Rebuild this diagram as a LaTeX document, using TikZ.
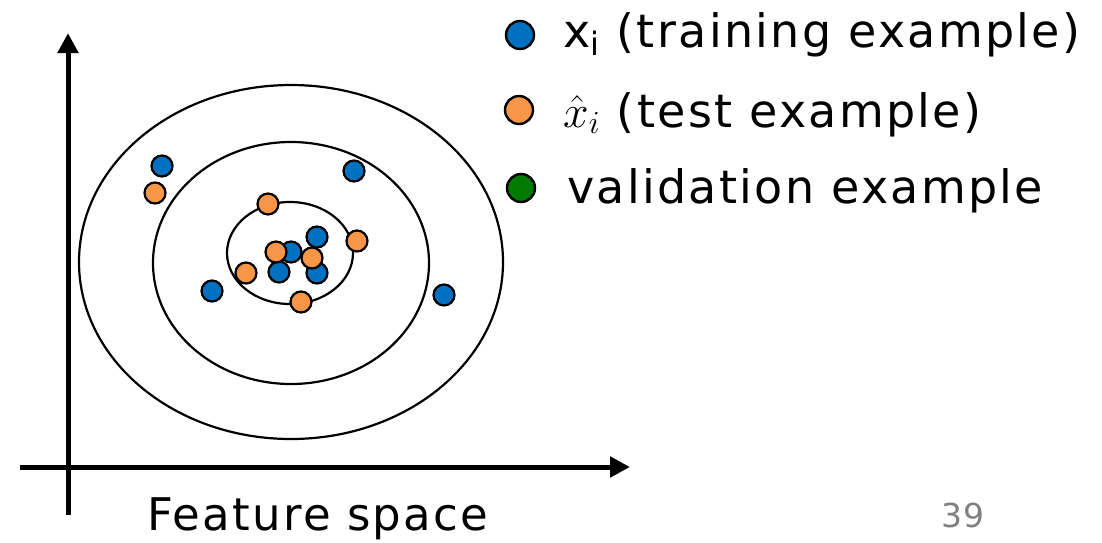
\documentclass[tikz,border=0pt]{standalone}
\usepackage{fix-cm}
\usepackage{fontspec}
\setmainfont{DejaVu Sans}[LetterSpace=5]
\usetikzlibrary{arrows.meta}
\definecolor{trainblue}{HTML}{0070C0}
\definecolor{testorange}{HTML}{F79646}
\definecolor{valgreen}{HTML}{007A00}
\tikzset{
  axis/.style={line width=5pt, -{Triangle[length=20pt,width=20pt]}},
  ring/.style={draw, line width=2.2pt},
  pt/.style={circle, draw, line width=2.2pt, minimum size=21pt, inner sep=0pt},
  train/.style={pt, fill=trainblue},
  testp/.style={pt, fill=testorange},
  legdot/.style={circle, draw, line width=2.4pt, minimum size=28pt, inner sep=0pt},
  legtext/.style={anchor=base west, inner sep=0pt, font=\fontsize{46}{50}\selectfont},
}
\begin{document}
\begin{tikzpicture}[x=1pt,y=-1pt]
\useasboundingbox (0,0) rectangle (1102,542);
% axes
\coordinate (yb) at (68,515);
\coordinate (yt) at (68,33);
\coordinate (xl) at (20,467);
\coordinate (xr) at (630,467);
\draw[axis] (yb) -- (yt);
\draw[axis] (xl) -- (xr);
% ellipses
\draw[ring] (291,262) ellipse [x radius=212, y radius=177];
\draw[ring] (291,263) ellipse [x radius=138, y radius=121];
\draw[ring] (290,253) ellipse [x radius=63, y radius=51];
% training points
\node[train] (b1) at (162,166) {};
\node[train] (b2) at (354,171) {};
\node[train] (b3) at (212,291) {};
\node[train] (b4) at (444,295) {};
\node[train] (b5) at (317,237) {};
\node[train] (b6) at (291,252) {};
\node[train] (b7) at (279,272) {};
\node[train] (b8) at (317,273) {};
% test points
\node[testp] (o1) at (155,193) {};
\node[testp] (o2) at (268,204) {};
\node[testp] (o3) at (357,241) {};
\node[testp] (o4) at (276,252) {};
\node[testp] (o5) at (312,258) {};
\node[testp] (o6) at (246,273) {};
\node[testp] (o7) at (301,302) {};
% legend
\node[legdot, fill=trainblue] (l1) at (520,35) {};
\node[legdot, fill=testorange] (l2) at (519,110) {};
\node[legdot, fill=valgreen] (l3) at (521,188) {};
\node[legtext] (t1) at (563,47) {x\textsubscript{i} (training example)};
\node[legtext] (t2) at (563,127) {$\hat{x}_i$ (test example)};
\node[legtext] (t3) at (567,203) {validation example};
\node[legtext, font=\fontsize{45}{50}\selectfont] (fs) at (147,530) {Feature space};
\node[anchor=base west, inner sep=0pt, text=gray, font=\fontsize{33}{36}\selectfont] (pg) at (941,527) {39};
\end{tikzpicture}
\end{document}
